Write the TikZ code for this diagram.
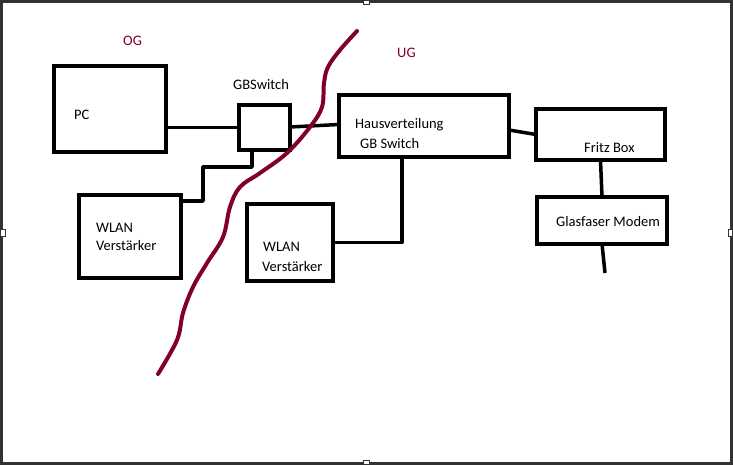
\documentclass[tikz,border=0pt]{standalone}
\usepackage{fontspec}
\setmainfont{Carlito}
\usetikzlibrary{calc}
\definecolor{maroon}{RGB}{128,0,38}
\definecolor{framegray}{RGB}{50,50,50}
\tikzset{
  box/.style={draw=black, line width=4pt, inner sep=0pt, outer sep=0pt},
  wire/.style={draw=black, line width=3.5pt, line join=round},
  txt/.style={anchor=base west, inner sep=0pt, font=\fontsize{14.5}{17.5}\selectfont},
  redtxt/.style={txt, text=maroon},
  handle/.style={draw=framegray, fill=white, line width=1pt}
}
\begin{document}
\begin{tikzpicture}[x=1pt,y=-1pt]
\useasboundingbox (0,0) rectangle (733,465);
\fill[white] (0,0) rectangle (733,465);
% frame
\draw[framegray, line width=3pt] (1.5,1.5) rectangle (731.5,463.5);
\draw[handle] (363,0.5) rectangle (369,5);
\draw[handle] (363,460) rectangle (369,464.5);
\draw[handle] (0.5,229) rectangle (5,236);
\draw[handle] (728,229) rectangle (732.5,236);

% boxes
\node[box, minimum width=112.5pt, minimum height=86pt] (pc) at (109.75,109) {};
\node[box, minimum width=51pt, minimum height=45pt] (gbs) at (264.5,127.5) {};
\node[box, minimum width=102pt, minimum height=83pt] (wlan1) at (130,236.5) {};
\node[box, minimum width=86pt, minimum height=77pt] (wlan2) at (290,242.5) {};
\node[box, minimum width=170pt, minimum height=62pt] (haus) at (424,126) {};
\node[box, minimum width=129pt, minimum height=51pt] (fritz) at (600.5,134.5) {};
\node[box, minimum width=130pt, minimum height=47pt] (modem) at (602,220.5) {};

% texts
\node[txt] (tpc) at (74,119.5) {PC};
\node[txt] (tgbs) at (233,90) {GBSwitch};
\node[txt] (tw1a) at (96,232.7) {WLAN};
\node[txt] (tw1b) at (96,250) {Verstärker};
\node[txt] (tw2a) at (263,251.7) {WLAN};
\node[txt] (tw2b) at (262,271.7) {Verstärker};
\node[txt] (tha) at (355,128.3) {Hausverteilung};
\node[txt] (thb) at (360,148.3) {GB Switch};
\node[txt] (tfr) at (584,152.7) {Fritz Box};
\node[txt] (tmo) at (556,226.7) {Glasfaser Modem};
\node[redtxt] (tog) at (123,46) {OG};
\node[redtxt] (tug) at (397,57.7) {UG};

% connectors
\coordinate (j1) at (203,167);
\coordinate (modemend) at (605,273);
\draw[wire] (gbs.west -| pc.east) -- (gbs.west);
\draw[wire] ($(gbs.east)+(0,-0.5)$) -- ($(haus.west)+(0,-1.5)$);
\draw[wire] ($(gbs.south)+(-12.5,0)$) |- (j1) |- ($(wlan1.north east)+(0,6)$);
\draw[wire] ($(haus.south)+(-22,0)$) |- (wlan2.east);
\draw[wire] ($(haus.east)+(0,4)$) -- (fritz.west);
\draw[wire] (fritz.south) -- (modem.north);
\draw[wire] (modem.south) -- (modemend);

% floor boundary
\draw[maroon, line width=4pt, line cap=round, line join=round]
  plot[smooth, tension=0.6] coordinates {
  (357,31) (340,50) (328,67) (324,83) (322,107) (310,127) (287,153)
  (260,173) (240,187) (230,207) (223,237) (207,263) (193,287)
  (183,313) (177,340) (158,374)};
\end{tikzpicture}
\end{document}
